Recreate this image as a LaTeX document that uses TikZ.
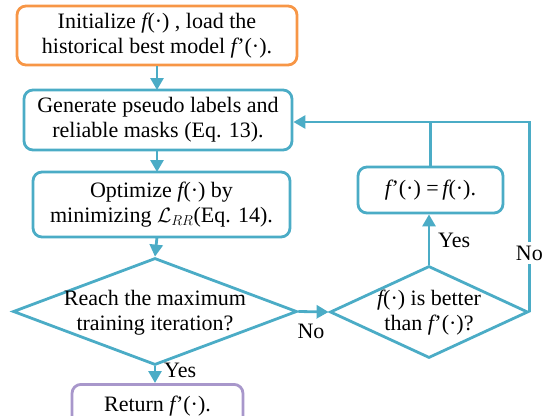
\documentclass[tikz,border=0pt]{standalone}
\usepackage{fontspec}
\setmainfont{Liberation Serif}
\usetikzlibrary{arrows.meta,shapes.geometric}
\definecolor{flowblue}{HTML}{4BACC6}
\definecolor{floworange}{HTML}{F79646}
\definecolor{flowpurple}{HTML}{A897CB}
\newcommand{\fn}{{\itshape f}(·)}
\newcommand{\fp}{{\itshape f}\kern0.5pt’(·)}
\begin{document}
\begin{tikzpicture}[x=1pt,y=-1pt,
  font=\fontsize{22}{25}\selectfont,
  box/.style={draw=flowblue,line width=2.8pt,rounded corners=9pt,align=center,inner sep=0pt},
  dia/.style={draw=flowblue,line width=2.8pt,diamond,inner sep=0pt},
  arr/.style={draw=flowblue,line width=2.8pt,-{Triangle[width=13pt,length=12pt]}},
  ln/.style={draw=flowblue,line width=2.8pt},
  lab/.style={inner sep=1pt}]
\useasboundingbox (0,0) rectangle (554,415);
\clip (0,0) rectangle (554,415);
\node[box,draw=floworange,minimum width=280pt,minimum height=59pt] (init) at (157,35.5)
  {Initialize \fn{} , load the\\historical best model \fp.};
\node[box,minimum width=268pt,minimum height=60pt] (gen) at (158,120)
  {Generate pseudo labels and\\reliable masks (Eq. 13).};
\node[box,minimum width=257pt,minimum height=65pt] (opt) at (161.5,204.5)
  {Optimize \fn{} by\\minimizing $\mathcal{L}_{RR}$(Eq. 14).};
\node[dia,minimum width=284pt,minimum height=107pt,
  label={[align=center,yshift=-1pt]center:Reach the maximum\\training iteration?}] (reach) at (155,311.5) {};
\node[dia,minimum width=198pt,minimum height=92pt,
  label={[align=center,yshift=-1pt]center:\fn{} is better\\than \fp?}] (better) at (429,312) {};
\node[box,minimum width=145pt,minimum height=46pt] (upd) at (430.5,190) {\fp{} =\,\fn.};
\node[box,draw=flowpurple,minimum width=171pt,minimum height=44pt,anchor=north] (ret) at (157.5,383)
  {\raisebox{5pt}{Return \fp.}};
\coordinate (topr) at (530,122);
\coordinate (topm) at (430.5,122);
\draw[arr] (init.south -| 157,0) -- (157,90);
\draw[arr] (157,150) -- (157,172);
\draw[arr] (157,237) -- (reach.north);
\draw[arr] (reach.south) -- (ret.north -| reach.south);
\draw[arr] (reach.east) -- (better.west);
\draw[arr] (better.north) -- (upd.south -| better.north);
\draw[ln] (upd.north) -- (topm);
\draw[ln] (better.east) -- (better.east |- topr) -- (topm);
\draw[arr] (topm) -- (gen.east |- topm);
\node[lab,anchor=west] (y1) at (163,370) {Yes};
\node[lab] (n1) at (311,331) {No};
\node[lab,anchor=west] (y2) at (437,240) {Yes};
\node[lab,fill=white,inner ysep=4pt] (n2) at (better.east |- 0,253) {No};
\end{tikzpicture}
\end{document}
